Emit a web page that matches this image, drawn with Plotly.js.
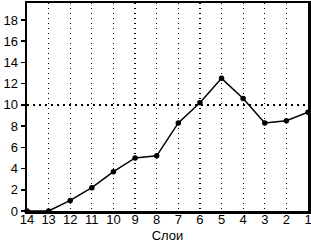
<!DOCTYPE html>
<html><head><meta charset="utf-8">
<script src="https://cdn.plot.ly/plotly-3.0.1.min.js"></script>
<style>body{margin:0;padding:0;background:#fff}#c{width:311px;height:243px}</style>
</head><body><div id="c"></div>
<script>
const layers = [14,13,12,11,10,9,8,7,6,5,4,3,2,1];
const values = [0,0,1.0,2.2,3.7,5.0,5.2,8.3,10.2,12.5,10.6,8.3,8.5,9.3];
const yTicks = [0,2,4,6,8,10,12,14,16,18];
const refLevel = 10;

const trace = {
  x: layers, y: values, type:'scatter', mode:'lines+markers',
  line:{color:'#000', width:1.5}, marker:{color:'#000', size:5.5}, cliponaxis:false
};
const layout = {
  width:311, height:243,
  margin:{l:27, r:3, t:3, b:32},
  paper_bgcolor:'#fff', plot_bgcolor:'#fff',
  font:{family:'Liberation Sans, Arial, sans-serif', size:13, color:'#000'},
  showlegend:false,
  xaxis:{
    range:[14,1], tickvals:layers, ticktext:layers.map(String),
    showgrid:true, gridcolor:'#000', griddash:'1px,4px', gridwidth:1.2,
    zeroline:false, showline:true, linecolor:'#000', linewidth:2.5, mirror:true,
    ticks:'', ticklen:0, ticklabeloverflow:'allow', ticklabelstandoff:-5,
    automargin:false,
    title:{text:'Слои', font:{size:13}, standoff:6}
  },
  yaxis:{
    range:[0,19.6], tickvals:yTicks, ticktext:yTicks.map(String),
    showgrid:false, zeroline:false, showline:true, linecolor:'#000', linewidth:2.5, mirror:true,
    ticks:'outside', ticklen:4, tickcolor:'#000', tickwidth:1.5, automargin:false
  },
  shapes:[{type:'line', xref:'paper', x0:0, x1:1, yref:'y', y0:refLevel, y1:refLevel,
    line:{color:'#000', width:2, dash:'2px,4px'}}]
};
Plotly.newPlot('c',[trace],layout,{staticPlot:true});
</script></body></html>
